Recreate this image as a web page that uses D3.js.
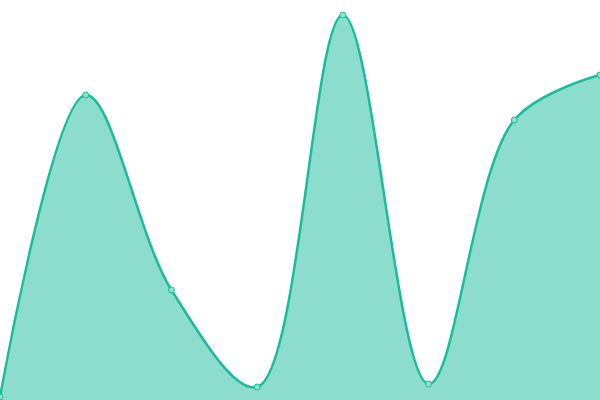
<!DOCTYPE html>
<html>
<head>
<meta charset="utf-8">
<script src="https://cdn.jsdelivr.net/npm/d3@7"></script>
<style>
  html, body { margin: 0; padding: 0; background: #fff; }
  svg { display: block; }
</style>
</head>
<body>
<div id="chart"></div>
<script>
const categories = ['A', 'B', 'C', 'D', 'E', 'F', 'G', 'H'];
const values = [3, 305, 110, 13, 385, 16, 280, 325];

const width = 600;
const height = 400;

const svg = d3.select('#chart')
    .append('svg')
    .attr('width', width)
    .attr('height', height);

const x = d3.scalePoint()
    .domain(categories)
    .range([0, width]);

const y = d3.scaleLinear()
    .domain([0, 400])
    .range([height, 0]);

const data = categories.map((c, i) => ({ c: c, v: values[i] }));

const curve = d3.curveCatmullRom.alpha(0.5);

const area = d3.area()
    .x((d) => x(d.c))
    .y0(y(0))
    .y1((d) => y(d.v))
    .curve(curve);

const line = d3.line()
    .x((d) => x(d.c))
    .y((d) => y(d.v))
    .curve(curve);

svg.append('path')
    .datum(data)
    .attr('d', area)
    .style('fill', '#1abc9c')
    .style('fill-opacity', 0.5);

svg.append('path')
    .datum(data)
    .attr('d', line)
    .style('fill', 'none')
    .style('stroke', '#1abc9c')
    .style('stroke-width', 2.5);

svg.selectAll('.dot')
    .data(data)
    .enter()
    .append('circle')
    .attr('class', 'dot')
    .attr('cx', (d) => x(d.c))
    .attr('cy', (d) => y(d.v))
    .attr('r', 3)
    .style('fill', '#8ee0cf')
    .style('stroke', '#1abc9c')
    .style('stroke-width', 1);
</script>
</body>
</html>
